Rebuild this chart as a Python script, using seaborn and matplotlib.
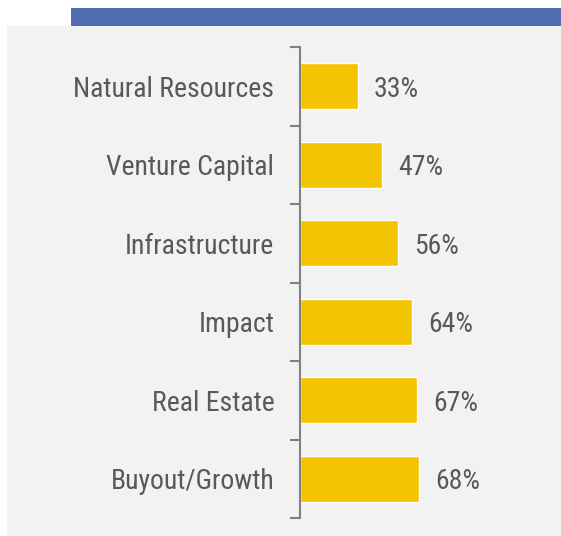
import matplotlib
matplotlib.use("Agg")
import matplotlib.pyplot as plt
import seaborn as sns
import pandas as pd
from matplotlib.patches import Rectangle

# DATA
categories = ["Natural Resources", "Venture Capital", "Infrastructure",
              "Impact", "Real Estate", "Buyout/Growth"]
values = [33, 47, 56, 64, 67, 68]
value_labels = [f"{v}%" for v in values]

df = pd.DataFrame({"Category": categories, "Share": values})

# STYLE
sns.set_theme(style="white")
plt.rcParams["font.family"] = ["Arial Narrow", "Liberation Sans Narrow",
                               "Roboto Condensed", "Archivo Narrow",
                               "PT Sans Narrow", "Liberation Sans", "DejaVu Sans"]
text_color = "#595959"
bar_color = "#F5C400"
FS = 20

W, H = 561, 536
fig = plt.figure(figsize=(W / 100, H / 100), dpi=100)
fig.patch.set_facecolor("white")

# grey panel and blue header strip (drawn behind the axes)
fig.patches.append(Rectangle((7 / W, 0), 1 - 7 / W, 1 - 26 / H,
                             transform=fig.transFigure, facecolor="#F2F2F2",
                             edgecolor="none", zorder=-10))
fig.patches.append(Rectangle((71 / W, 1 - 26 / H), 1 - 71 / W, 18 / H,
                             transform=fig.transFigure, facecolor="#516EB0",
                             edgecolor="none", zorder=-10))

ax = fig.add_axes([300 / W, 1 - 518 / H, 175 / W, 471 / H])
ax.set_facecolor("none")

sns.barplot(data=df, y="Category", x="Share", orient="h", color=bar_color,
            width=0.59, saturation=1, ax=ax)

ax.set_xlim(0, 100)
ax.set_ylim(len(categories) - 0.5, -0.5)
ax.set_xlabel("")
ax.set_ylabel("")
ax.set_xticks([])

# category labels centred, tick marks at the boundaries
ax.set_yticks(range(len(categories)))
ax.set_yticklabels(categories, fontsize=FS, color=text_color)
ax.tick_params(axis="y", which="major", left=True, length=0, pad=18.5)
ax.set_yticks([i - 0.5 for i in range(len(categories) + 1)], minor=True)
ax.tick_params(axis="y", which="minor", left=True, length=7, width=1.5,
               color="#808080", direction="out")

for s in ["top", "right", "bottom"]:
    ax.spines[s].set_visible(False)
ax.spines["left"].set_color("#808080")
ax.spines["left"].set_linewidth(1.5)

for i, (v, lab) in enumerate(zip(values, value_labels)):
    ax.annotate(lab, xy=(v, i), xytext=(16, 0), textcoords="offset pixels",
                va="center_baseline", ha="left", fontsize=FS, color=text_color)

fig.savefig("out.png", dpi=100)
